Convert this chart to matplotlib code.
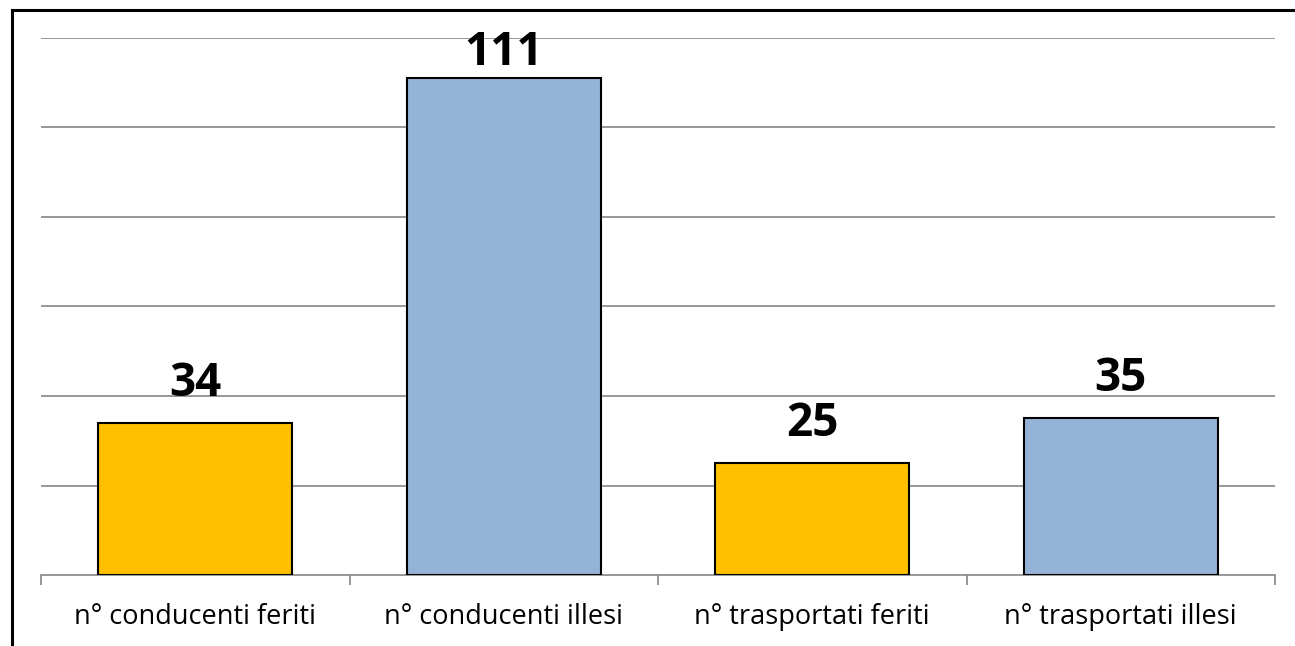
import matplotlib.pyplot as plt
from matplotlib.lines import Line2D

categories = ["n° conducenti feriti", "n° conducenti illesi",
              "n° trasportati feriti", "n° trasportati illesi"]
values = [34, 111, 25, 35]
colors = ["#FFC000", "#95B3D7", "#FFC000", "#95B3D7"]

plt.rcParams['font.family'] = ['Open Sans', 'DejaVu Sans']

fig = plt.figure(figsize=(12.95, 6.46), dpi=100)
ax = fig.add_axes([41 / 1295, 1 - 575 / 646, (1275 - 41) / 1295, (575 - 38) / 646])

x = range(len(categories))
ax.bar(x, values, width=0.63, color=colors, edgecolor="black", linewidth=1.5, zorder=3)

ax.set_xlim(-0.5, len(categories) - 0.5)
ax.set_ylim(0, 120)
ax.set_yticks(range(20, 121, 20))
ax.yaxis.grid(True, color="#868686", linewidth=1.2)
ax.tick_params(axis="y", left=False, labelleft=False)

# category ticks sit on the boundaries between bars
ax.set_xticks([i - 0.5 for i in range(len(categories) + 1)], minor=False)
ax.set_xticklabels([])
ax.set_xticks(list(x), minor=True)
ax.set_xticklabels(categories, minor=True, fontsize=19.5)
ax.tick_params(axis="x", which="major", length=7, color="#868686", width=1.2)
ax.tick_params(axis="x", which="minor", length=0, pad=20)

for s in ["top", "right", "left"]:
    ax.spines[s].set_visible(False)
ax.spines["bottom"].set_color("#868686")
ax.spines["bottom"].set_linewidth(1.2)

for i, v in enumerate(values):
    off = 19.5 if v < 100 else 9.5
    ax.annotate(str(v), (i, v), xytext=(0, off), textcoords="offset points",
                ha="center", va="baseline", fontsize=33, fontweight="bold")

# frame on left and top edges
fig.add_artist(Line2D([12 / 1295, 12 / 1295], [0, 1 - 10 / 646], color="black",
                      linewidth=2.2, transform=fig.transFigure))
fig.add_artist(Line2D([12 / 1295, 1], [1 - 10 / 646, 1 - 10 / 646], color="black",
                      linewidth=2.2, transform=fig.transFigure))

fig.savefig("out.png", dpi=100)
